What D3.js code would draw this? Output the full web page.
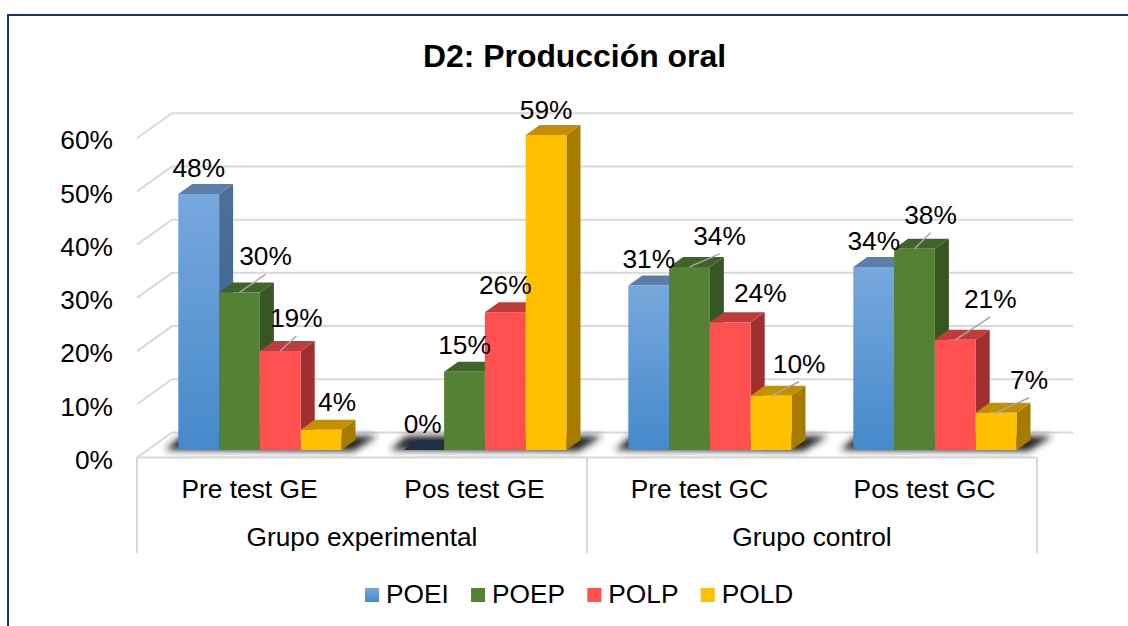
<!DOCTYPE html>
<html>
<head>
<meta charset="utf-8">
<script src="https://cdnjs.cloudflare.com/ajax/libs/d3/7.8.5/d3.min.js"></script>
<style>
  body { margin: 0; background: #fff; }
  svg { display: block; }
  text { font-family: "Liberation Sans", Arial, sans-serif; fill: #000; }
</style>
</head>
<body>
<svg id="chart"></svg>
<script>
const title = "D2: Producción oral";
const groups = ["Grupo experimental", "Grupo control"];
const categories = ["Pre test GE", "Pos test GE", "Pre test GC", "Pos test GC"];
const seriesNames = ["POEI", "POEP", "POLP", "POLD"];
const yTicks = [0, 0.1, 0.2, 0.3, 0.4, 0.5, 0.6];

// one value per category
const POEI = [0.481, 0, 0.309, 0.344];
const POEP = [0.296, 0.147, 0.344, 0.378];
const POLP = [0.186, 0.259, 0.24, 0.207];
const POLD = [0.038, 0.592, 0.102, 0.07];
const seriesValues = [POEI, POEP, POLP, POLD];

// label offset from the top of the bar, order: category then series
const labelNudge = [
  [[0, -17], [26, -27], [16, -24], [16, -19]],
  [[-1, -17], [0, -18], [0, -18], [0, -16]],
  [[0, -18], [30, -22], [30, -20], [28, -23]],
  [[0, -17], [16, -25], [35, -32], [33, -24]]
];
// which labels get a leader line
const hasLeader = [
  [0, 1, 1, 0],
  [0, 0, 0, 0],
  [0, 1, 0, 1],
  [0, 1, 1, 1]
];

const width = 1128;
const height = 626;
const gridColor = "#d9d9d9";
const labelSize = 26.3;

const colors = {
  POEI: { top: "#5a7ea8", sideA: "#4d7099", sideB: "#33608f", frontA: "#77a8dd", frontB: "#4589cb" },
  POEP: { top: "#406327", sideA: "#375623", sideB: "#375623", frontA: "#548235", frontB: "#548235" },
  POLP: { top: "#c03c3c", sideA: "#a03030", sideB: "#a03030", frontA: "#ff5050", frontB: "#ff5050" },
  POLD: { top: "#c49000", sideA: "#a67c00", sideB: "#a67c00", frontA: "#ffc000", frontB: "#ffc000" }
};

const svg = d3.select("#chart").attr("width", width).attr("height", height);

// gradients for the bars
const defs = svg.append("defs");
seriesNames.forEach(function (s) {
  [["front", colors[s].frontA, colors[s].frontB], ["side", colors[s].sideA, colors[s].sideB]].forEach(function (g) {
    const lg = defs.append("linearGradient")
      .attr("id", g[0] + s)
      .attr("x1", 0).attr("y1", 0).attr("x2", 0).attr("y2", 1);
    lg.append("stop").attr("offset", "0%").attr("stop-color", g[1]);
    lg.append("stop").attr("offset", "100%").attr("stop-color", g[2]);
  });
});
defs.append("filter").attr("id", "blur")
  .attr("x", "-20%").attr("y", "-80%").attr("width", "140%").attr("height", "260%")
  .append("feGaussianBlur").attr("stdDeviation", 3.8);

// frame: only top and left show in the picture
svg.append("path")
  .attr("d", "M8,626V15H1128")
  .attr("fill", "none")
  .attr("stroke", "#17376e")
  .attr("stroke-width", 2);

svg.append("text")
  .attr("x", 574.5)
  .attr("y", 67)
  .attr("text-anchor", "middle")
  .attr("font-size", 31.9)
  .attr("font-weight", "bold")
  .text(title);

// scales
const y = d3.scaleLinear().domain([0, 0.6]).range([457.5, 138.2]);
const xCat = d3.scaleBand().domain(categories).range([137, 1037]);
const barWidth = 40.8;
const xBar = d3.scaleBand().domain(seriesNames).range([41.3, 41.3 + barWidth * 4]);

// box depth of the wall and of the bars
const wallX = 35, wallY = 25;
const barDepthX = 14, barDepthY = 10;
const barBaseShift = 7.5; // bars stand a little behind the front edge of the floor

// grid
const grid = svg.append("g").attr("fill", "none").attr("stroke", gridColor).attr("stroke-width", 2);
grid.selectAll("path")
  .data(yTicks)
  .enter()
  .append("path")
  .attr("d", (d) => "M137," + y(d) + "L" + (137 + wallX) + "," + (y(d) - wallY) + "H1073");

// x axis lines
const axisLines = svg.append("g").attr("stroke", gridColor).attr("stroke-width", 2);
axisLines.append("line")
  .attr("x1", 137).attr("x2", 1037)
  .attr("y1", y(0)).attr("y2", y(0));
axisLines.selectAll("line.sep")
  .data([137, 587, 1037])
  .enter()
  .append("line")
  .attr("class", "sep")
  .attr("x1", (d) => d).attr("x2", (d) => d)
  .attr("y1", y(0)).attr("y2", 553);

// y axis
const yAxis = d3.axisLeft(y).tickValues(yTicks).tickFormat(d3.format(".0%")).tickSize(0).tickPadding(0);
svg.append("g")
  .attr("transform", "translate(113,0)")
  .call(yAxis)
  .call((g) => g.select(".domain").remove())
  .selectAll("text")
  .attr("font-size", labelSize)
  .attr("font-family", null)
  .attr("dy", "0.41em");

// floor shadows
svg.append("g").selectAll("polygon")
  .data(categories)
  .enter()
  .append("polygon")
  .attr("points", function (c) {
    const l = xCat(c) + xBar.range()[0];
    const r = xCat(c) + xBar.range()[1];
    return [[l - 13, 450], [l + 3, 436], [r + 36, 436], [r + 12, 451]].join(" ");
  })
  .attr("fill", "#222")
  .attr("filter", "url(#blur)");

// bars
const barTop = (v) => y(v) - barBaseShift;
const barBase = y(0) - barBaseShift;

categories.forEach(function (c, ci) {
  const g = svg.append("g").attr("class", "category");
  const rows = seriesNames.map((s, si) => ({ s: s, si: si, v: seriesValues[si][ci] }));
  const bar = g.selectAll("g.bar").data(rows).enter().append("g").attr("class", "bar");
  const left = (d) => xCat(c) + xBar(d.s);

  bar.append("polygon")
    .attr("points", (d) => [
      [left(d) + barWidth, barTop(d.v)],
      [left(d) + barWidth + barDepthX, barTop(d.v) - barDepthY],
      [left(d) + barWidth + barDepthX, barBase - barDepthY],
      [left(d) + barWidth, barBase]
    ].join(" "))
    .attr("fill", (d) => "url(#side" + d.s + ")");

  bar.append("polygon")
    .attr("points", (d) => [
      [left(d), barTop(d.v)],
      [left(d) + barDepthX, barTop(d.v) - barDepthY],
      [left(d) + barWidth + barDepthX, barTop(d.v) - barDepthY],
      [left(d) + barWidth, barTop(d.v)]
    ].join(" "))
    .attr("fill", (d) => d.v === 0 ? "#1f2f46" : colors[d.s].top);

  bar.filter((d) => d.v > 0).append("rect")
    .attr("x", left)
    .attr("y", (d) => barTop(d.v))
    .attr("width", barWidth)
    .attr("height", (d) => barBase - barTop(d.v))
    .attr("fill", (d) => "url(#front" + d.s + ")");
});

// data labels go over all the bars
categories.forEach(function (c, ci) {
  seriesNames.forEach(function (s, si) {
    const v = seriesValues[si][ci];
    const cx = xCat(c) + xBar(s) + barWidth / 2;
    const top = barTop(v);
    const n = labelNudge[ci][si];
    if (hasLeader[ci][si]) {
      svg.append("line")
        .attr("x1", cx).attr("y1", top)
        .attr("x2", cx + n[0]).attr("y2", top + n[1] + 9)
        .attr("stroke", "#a6a6a6")
        .attr("stroke-width", 1.5);
    }
    svg.append("text")
      .attr("x", cx + n[0])
      .attr("y", top + n[1])
      .attr("text-anchor", "middle")
      .attr("font-size", labelSize)
      .text(d3.format(".0%")(v));
  });
});

// category and group labels
svg.append("g").selectAll("text")
  .data(categories)
  .enter()
  .append("text")
  .attr("x", (d) => xCat(d) + xCat.bandwidth() / 2)
  .attr("y", 498)
  .attr("text-anchor", "middle")
  .attr("font-size", labelSize)
  .text((d) => d);

svg.append("g").selectAll("text")
  .data(groups)
  .enter()
  .append("text")
  .attr("x", (d, i) => xCat(categories[i * 2]) + xCat.bandwidth())
  .attr("y", 545.5)
  .attr("text-anchor", "middle")
  .attr("font-size", labelSize)
  .text((d) => d);

// legend, laid out from the text widths
const legend = svg.append("g").attr("id", "legend");
let legendX = 365;
seriesNames.forEach(function (s) {
  legend.append("rect")
    .attr("x", legendX).attr("y", 588)
    .attr("width", 14).attr("height", 14)
    .attr("fill", "url(#front" + s + ")");
  const t = legend.append("text")
    .attr("x", legendX + 21)
    .attr("y", 602.7)
    .attr("font-size", labelSize)
    .text(s);
  legendX += 21 + t.node().getComputedTextLength() + 22.2;
});
</script>
</body>
</html>
